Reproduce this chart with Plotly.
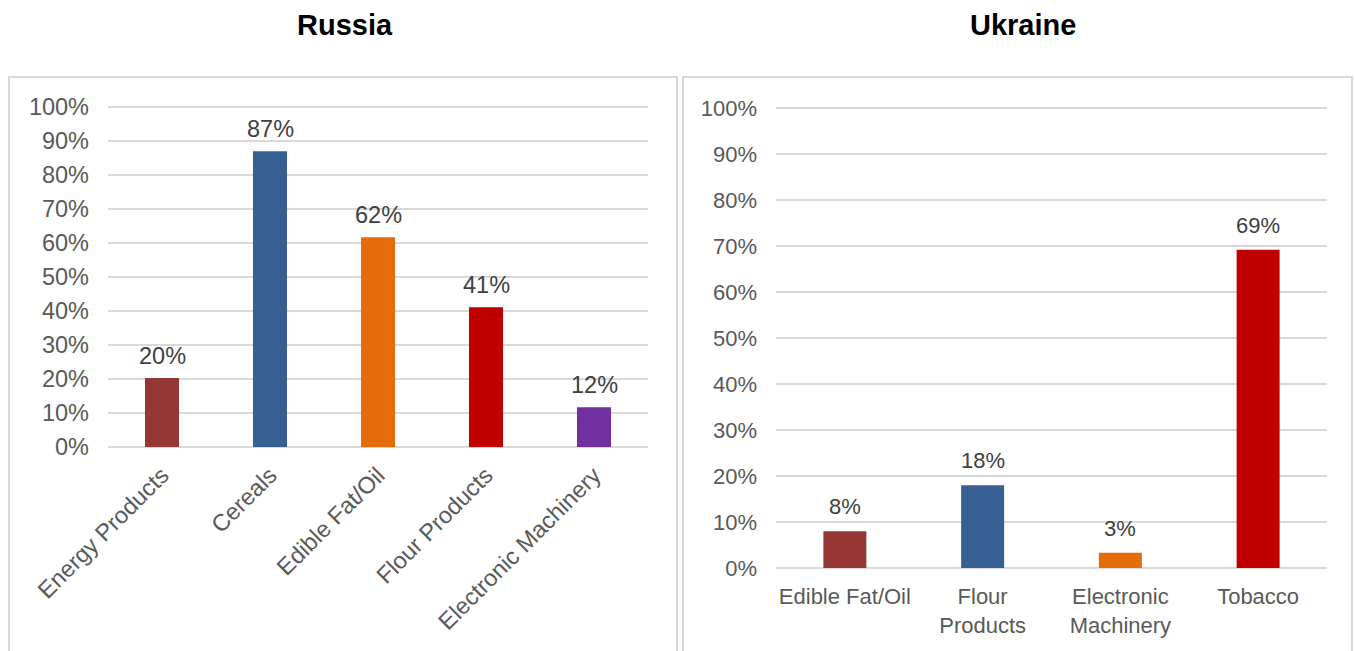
import plotly.graph_objects as go

# ---- data ----
russia_categories = ["Energy Products", "Cereals", "Edible Fat/Oil", "Flour Products", "Electronic Machinery"]
russia_values = [0.203, 0.87, 0.617, 0.411, 0.117]
russia_colors = ["#953735", "#376092", "#E46C0A", "#C00000", "#7030A0"]

ukraine_categories = ["Edible Fat/Oil", "Flour<br>Products", "Electronic<br>Machinery", "Tobacco"]
ukraine_values = [0.08, 0.18, 0.033, 0.692]
ukraine_colors = ["#953735", "#376092", "#E46C0A", "#C00000"]

y_ticks = [0, 0.1, 0.2, 0.3, 0.4, 0.5, 0.6, 0.7, 0.8, 0.9, 1.0]
y_ticklabels = ["0%", "10%", "20%", "30%", "40%", "50%", "60%", "70%", "80%", "90%", "100%"]

titles = ["Russia", "Ukraine"]

FONT = "Liberation Sans, Arial, sans-serif"
W, H = 1355, 651
R_FS = 23.5   # Russia panel font size
U_FS = 22     # Ukraine panel font size

fig = go.Figure()
fig.add_trace(go.Bar(x=russia_categories, y=russia_values, marker=dict(color=russia_colors, line=dict(width=0)),
                     width=0.315, xaxis="x", yaxis="y", showlegend=False, hoverinfo="skip"))
fig.add_trace(go.Bar(x=ukraine_categories, y=ukraine_values, marker=dict(color=ukraine_colors, line=dict(width=0)),
                     width=0.312, xaxis="x2", yaxis="y2", showlegend=False, hoverinfo="skip"))

annotations = []
for cats, vals, xr, yr, shift, fs in [(russia_categories, russia_values, "x", "y", 7, R_FS),
                                      (ukraine_categories, ukraine_values, "x2", "y2", 10, U_FS)]:
    for c, v in zip(cats, vals):
        annotations.append(dict(x=c, y=v, xref=xr, yref=yr, text=f"{v*100:.0f}%", showarrow=False,
                                yanchor="bottom", yshift=shift,
                                font=dict(family=FONT, size=fs, color="#404040")))

# titles
annotations.append(dict(x=345 / W, y=1 - 25 / H, xref="paper", yref="paper", text="<b>" + titles[0] + "</b>",
                        showarrow=False, xanchor="center", yanchor="middle",
                        font=dict(family=FONT, size=29, color="#000000")))
annotations.append(dict(x=1023 / W, y=1 - 25 / H, xref="paper", yref="paper", text="<b>" + titles[1] + "</b>",
                        showarrow=False, xanchor="center", yanchor="middle",
                        font=dict(family=FONT, size=29, color="#000000")))

def px_x(p):
    return p / W

def px_y(p):
    return 1 - p / H

# panel boxes
shapes = [
    dict(type="rect", xref="paper", yref="paper", x0=px_x(9), x1=px_x(677), y0=-0.05, y1=px_y(77),
         line=dict(color="#D9D9D9", width=2), fillcolor="rgba(0,0,0,0)", layer="below"),
    dict(type="rect", xref="paper", yref="paper", x0=px_x(683), x1=px_x(1352), y0=-0.05, y1=px_y(77),
         line=dict(color="#D9D9D9", width=2), fillcolor="rgba(0,0,0,0)", layer="below"),
]

ymax = 1.02
# Russia: 0 at 447px, 1.0 at 107px -> 340 px per unit
r_top = 447 - 340 * ymax
# Ukraine: 0 at 568px, 1.0 at 108px -> 460 px per unit
u_top = 568 - 460 * ymax

def yaxis_cfg(fs, standoff):
    return dict(range=[0, ymax], tickvals=y_ticks, ticktext=y_ticklabels, showgrid=True,
                gridcolor="#D9D9D9", gridwidth=2, zeroline=True, zerolinecolor="#D9D9D9",
                zerolinewidth=2, showline=False, ticks="", ticklabelstandoff=standoff, automargin=False,
                tickfont=dict(family=FONT, size=fs, color="#595959"), fixedrange=True)

fig.update_layout(
    width=W, height=H,
    margin=dict(l=0, r=0, t=0, b=0, autoexpand=False),
    paper_bgcolor="white", plot_bgcolor="white",
    xaxis=dict(domain=[px_x(108), px_x(648)], showgrid=False, showline=False, zeroline=False, ticks="",
               tickangle=-45, tickfont=dict(family=FONT, size=R_FS, color="#595959"), anchor="y",
               ticklabelstandoff=9, automargin=False, fixedrange=True),
    yaxis=dict(domain=[px_y(447), px_y(r_top)], anchor="x", **yaxis_cfg(R_FS, 18)),
    xaxis2=dict(domain=[px_x(776), px_x(1327)], showgrid=False, showline=False, zeroline=False, ticks="",
                tickangle=0, tickfont=dict(family=FONT, size=U_FS, color="#595959"), anchor="y2",
                ticklabelstandoff=13, automargin=False, fixedrange=True),
    yaxis2=dict(domain=[px_y(568), px_y(u_top)], anchor="x2", **yaxis_cfg(U_FS, 18)),
    annotations=annotations,
    shapes=shapes,
)

fig.write_html("out.html", config={"displayModeBar": False})
